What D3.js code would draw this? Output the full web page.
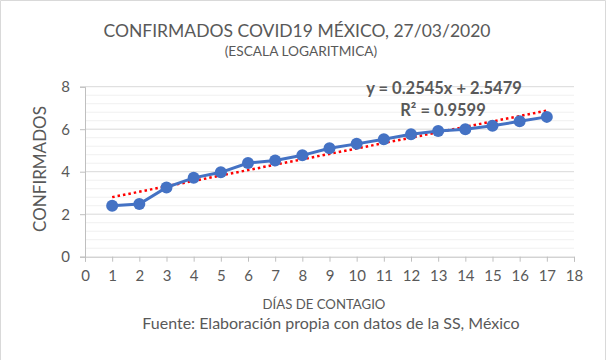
<!DOCTYPE html>
<html>
<head>
<meta charset="utf-8">
<script src="https://cdn.jsdelivr.net/npm/d3@7"></script>
<style>
  body { margin: 0; background: #fff; }
  text { font-family: Lato, "Open Sans", sans-serif; fill: #595959; }
</style>
</head>
<body>
<div id="chart"></div>
<script>
// dias de contagio y ln(confirmados)
var dias = [1, 2, 3, 4, 5, 6, 7, 8, 9, 10, 11, 12, 13, 14, 15, 16, 17];
var lnConfirmados = [2.40, 2.48, 3.26, 3.71, 3.97, 4.41, 4.53, 4.77, 5.10, 5.31, 5.53, 5.76, 5.91, 6.00, 6.16, 6.37, 6.58];
var xTicks = [0, 1, 2, 3, 4, 5, 6, 7, 8, 9, 10, 11, 12, 13, 14, 15, 16, 17, 18];
var yTicks = [0, 2, 4, 6, 8];
// linea de tendencia (Excel)
var trendSlope = 0.2545;
var trendIntercept = 2.5479;
var trendR2 = 0.9599;
var trendDias = [1, 17];

var width = 606, height = 360;

var svg = d3.select("#chart")
    .append("svg")
    .attr("width", width)
    .attr("height", height);

// borde del grafico
svg.append("path")
    .attr("d", "M0.5," + height + "V0.5H" + (width - 0.5) + "V" + height)
    .attr("fill", "none")
    .attr("stroke", "#d9d9d9");

var x = d3.scaleLinear().domain([0, 18]).range([85, 574]);
var y = d3.scaleLinear().domain([0, 8]).range([256.7, 86.7]);

// lineas de division menores
var minor = d3.range(0, 8.001, 0.4).filter(function (v) { return Math.abs(v / 2 - Math.round(v / 2)) > 0.01; });
svg.append("g").selectAll("line")
    .data(minor)
    .enter().append("line")
    .attr("x1", x(0)).attr("x2", x(18))
    .attr("y1", function (d) { return y(d); })
    .attr("y2", function (d) { return y(d); })
    .attr("stroke", "#f0f0f0")
    .attr("stroke-width", 1);

// lineas de division mayores
svg.append("g").selectAll("line")
    .data(yTicks.slice(1))
    .enter().append("line")
    .attr("x1", x(0)).attr("x2", x(18))
    .attr("y1", function (d) { return y(d); })
    .attr("y2", function (d) { return y(d); })
    .attr("stroke", "#d9d9d9")
    .attr("stroke-width", 1);

// ejes
var xAxis = svg.append("g")
    .attr("transform", "translate(0," + y(0) + ")")
    .call(d3.axisBottom(x).tickValues(xTicks).tickSize(5).tickPadding(9));
var yAxis = svg.append("g")
    .attr("transform", "translate(" + x(0) + ",0)")
    .call(d3.axisLeft(y).tickValues(yTicks).tickSize(5).tickPadding(10));

[xAxis, yAxis].forEach(function (a) {
    a.select(".domain").attr("stroke", "#bfbfbf");
    a.selectAll(".tick line").attr("stroke", "#bfbfbf");
    a.selectAll(".tick text")
        .attr("fill", "#595959")
        .style("font-size", "15px");
});

// tendencia
var trend = d3.line()
    .x(function (d) { return x(d); })
    .y(function (d) { return y(trendSlope * d + trendIntercept); });
svg.append("path")
    .datum(trendDias)
    .attr("d", trend)
    .attr("fill", "none")
    .attr("stroke", "#ff0000")
    .attr("stroke-width", 2.5)
    .attr("stroke-dasharray", "2.5,3");

// serie
var line = d3.line()
    .x(function (d, i) { return x(dias[i]); })
    .y(function (d) { return y(d); });
svg.append("path")
    .datum(lnConfirmados)
    .attr("d", line)
    .attr("fill", "none")
    .attr("stroke", "#4472c4")
    .attr("stroke-width", 3);

svg.append("g").selectAll("circle")
    .data(lnConfirmados)
    .enter().append("circle")
    .attr("cx", function (d, i) { return x(dias[i]); })
    .attr("cy", function (d) { return y(d); })
    .attr("r", 6)
    .attr("fill", "#4472c4");

// ecuacion
svg.append("text")
    .attr("x", 444).attr("y", 94)
    .attr("text-anchor", "middle")
    .style("font-size", "16.5px").style("font-weight", "bold")
    .text("y = " + trendSlope + "x + " + trendIntercept);
svg.append("text")
    .attr("x", 443).attr("y", 116)
    .attr("text-anchor", "middle")
    .style("font-size", "16.5px").style("font-weight", "bold")
    .text("R² = " + trendR2);

// titulos
svg.append("text")
    .attr("x", 297).attr("y", 36.5)
    .attr("text-anchor", "middle")
    .style("font-size", "17.5px")
    .text("CONFIRMADOS COVID19 MÉXICO, 27/03/2020");
svg.append("text")
    .attr("x", 301).attr("y", 55.5)
    .attr("text-anchor", "middle")
    .style("font-size", "13.7px")
    .text("(ESCALA LOGARITMICA)");

svg.append("text")
    .attr("transform", "translate(46,169) rotate(-90)")
    .attr("text-anchor", "middle")
    .style("font-size", "17px")
    .text("CONFIRMADOS");

svg.append("text")
    .attr("x", 324).attr("y", 309)
    .attr("text-anchor", "middle")
    .style("font-size", "13.2px")
    .text("DÍAS DE CONTAGIO");
svg.append("text")
    .attr("x", 331).attr("y", 329)
    .attr("text-anchor", "middle")
    .style("font-size", "16px")
    .text("Fuente: Elaboración propia con datos de la SS, México");
</script>
</body>
</html>
